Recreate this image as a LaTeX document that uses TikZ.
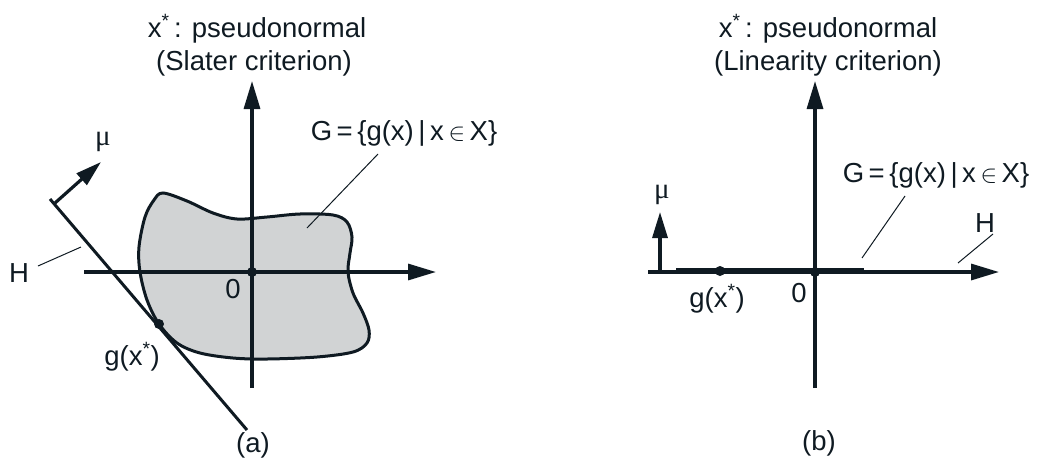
\documentclass[tikz,border=0pt]{standalone}
\usepackage{fontspec}
\setmainfont{Liberation Sans}
\newfontfamily\greekfont{Liberation Serif}
\usetikzlibrary{arrows.meta}
\definecolor{ink}{HTML}{0F1A22}
\definecolor{blobfill}{HTML}{D1D3D4}
\begin{document}
\begin{tikzpicture}[x=1pt,y=-1pt,
  every node/.style={inner sep=0pt, outer sep=0pt, text=ink, font=\fontsize{27.5}{32}\selectfont},
  lbl/.style={anchor=base},
  axisline/.style={draw=ink, line width=3.2pt, -{Triangle[length=28pt,width=16pt]}},
  muarrow/.style={draw=ink, line width=3.2pt, -{Triangle[length=26pt,width=15pt]}},
  hline/.style={draw=ink, line width=3pt},
  leader/.style={draw=ink, line width=1pt},
  thickseg/.style={draw=ink, line width=5pt},
  dotmark/.style={circle, fill=ink, minimum size=10pt},
  mutext/.style={font=\greekfont\fontsize{29}{32}\selectfont}
]
\useasboundingbox (0,0) rectangle (1040,469);

% ---------------- panel (a) ----------------
\filldraw[fill=blobfill, draw=ink, line width=3pt]
  plot[smooth cycle, tension=0.55] coordinates {
   (163,193) (187,201) (213,213) (237,219) (267,217) (300,214) (333,215)
   (347,222) (352,237) (350,253) (348,272) (353,293) (363,313) (369,330)
   (367,343) (353,352) (317,357) (267,359) (233,358) (200,353) (177,343)
   (159,324) (147,300) (140,272) (139,247) (145,217) (154,200)};

\coordinate (aXl) at (84,272);
\coordinate (aXr) at (436,272);
\coordinate (aYb) at (252,388);
\coordinate (aYt) at (252,81);
\draw[axisline] (aXl) -- (aXr);
\draw[axisline] (aYb) -- (aYt);
\node[dotmark] (aO) at (252,272) {};

\coordinate (aH1) at (50,199);
\coordinate (aH2) at (247,430);
\draw[hline] (aH1) -- (aH2);
\coordinate (aMu1) at (55,203);
\coordinate (aMu2) at (101,162);
\draw[muarrow] (aMu1) -- (aMu2);
\node[dotmark] (aG) at (159,324) {};

\node[lbl] (aT1) at (257,37) {x\textsuperscript{*}\,: pseudonormal};
\node[lbl] (aT2) at (254,70) {(Slater criterion)};
\node[lbl] (aZero) at (233,298) {0};
\node[lbl] (aHl) at (19,282) {H};
\node[lbl, mutext] (aMul) at (103,145) {μ};
\node[lbl] (aGx) at (132,365) {g(x\textsuperscript{*})};
\node[lbl] (aSet) at (404,140) {G\,=\,\{g(x)\,|\,x\,$\in$\,X\}};
\node[lbl] (aCap) at (253,452) {(a)};

\coordinate (aHa) at (38,266);
\coordinate (aHb) at (81,247);
\draw[leader] (aHa) -- (aHb);
\coordinate (aSa) at (378,154);
\coordinate (aSb) at (307,228);
\draw[leader] (aSa) -- (aSb);

% ---------------- panel (b) ----------------
\coordinate (bXl) at (648,272);
\coordinate (bXr) at (999,272);
\coordinate (bYb) at (815,388);
\coordinate (bYt) at (815,81);
\draw[axisline] (bXl) -- (bXr);
\draw[axisline] (bYb) -- (bYt);
\coordinate (bS1) at (676,270.5);
\coordinate (bS2) at (864,270.5);
\draw[thickseg] (bS1) -- (bS2);
\node[dotmark] (bO) at (815,272) {};
\node[dotmark] (bG) at (720,271) {};

\coordinate (bMu1) at (660,272);
\coordinate (bMu2) at (660,212);
\draw[muarrow] (bMu1) -- (bMu2);

\node[lbl] (bT1) at (828,37) {x\textsuperscript{*}\,: pseudonormal};
\node[lbl] (bT2) at (828,70) {(Linearity criterion)};
\node[lbl] (bZero) at (799,302) {0};
\node[lbl] (bHl) at (985,232) {H};
\node[lbl, mutext] (bMul) at (662,198) {μ};
\node[lbl] (bGx) at (717,307) {g(x\textsuperscript{*})};
\node[lbl] (bSet) at (936,182) {G\,=\,\{g(x)\,|\,x\,$\in$\,X\}};
\node[lbl] (bCap) at (819,450) {(b)};

\coordinate (bSa) at (905,196);
\coordinate (bSb) at (862,258);
\draw[leader] (bSa) -- (bSb);
\coordinate (bHa) at (993,234);
\coordinate (bHb) at (958,263);
\draw[leader] (bHa) -- (bHb);
\end{tikzpicture}
\end{document}
